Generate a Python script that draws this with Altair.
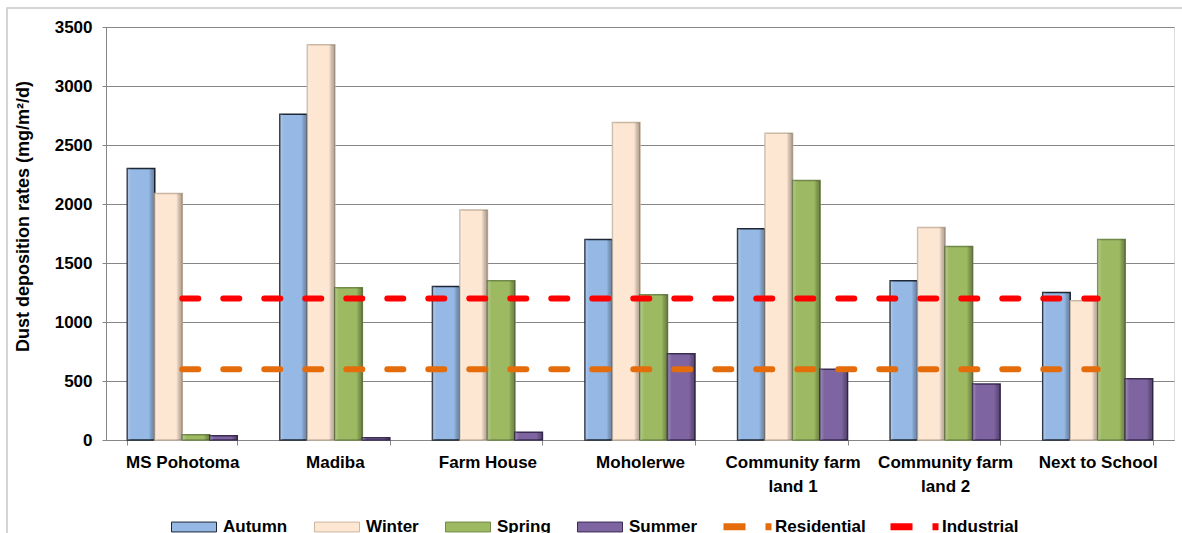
import altair as alt
import pandas as pd

sites = ["MS Pohotoma", "Madiba", "Farm House", "Moholerwe",
         "Community farm land 1", "Community farm land 2", "Next to School"]
seasons = ["Autumn", "Winter", "Spring", "Summer"]
autumn = [2300, 2760, 1300, 1700, 1790, 1350, 1250]
winter = [2090, 3350, 1950, 2690, 2600, 1800, 1180]
spring = [45, 1290, 1350, 1230, 2200, 1640, 1700]
summer = [35, 20, 65, 730, 600, 475, 520]
guides = ["Residential", "Industrial"]
residential = [600, 600, 600, 600, 600, 600, 600]
industrial = [1200, 1200, 1200, 1200, 1200, 1200, 1200]
y_ticks = [0, 500, 1000, 1500, 2000, 2500, 3000, 3500]

fill_colors = ["#95B8E4", "#FDE6D2", "#9DBA62", "#7E64A0"]
stroke_colors = ["#1E2735", "#C9B7A3", "#71894A", "#3B2D52"]
line_colors = ["#E46C0A", "#FF0000"]
FONT = "Liberation Sans"

rows = []
for s, vals in zip(seasons, [autumn, winter, spring, summer]):
    for site, v in zip(sites, vals):
        rows.append({"site": site, "season": s, "value": v})
bars_df = pd.DataFrame(rows)

lrows = []
for g, vals in zip(guides, [residential, industrial]):
    for site, v in zip(sites, vals):
        lrows.append({"site": site, "guide": g, "value": v})
lines_df = pd.DataFrame(lrows)

x_enc = alt.X(
    "site:N", sort=sites, title=None,
    scale=alt.Scale(domain=sites, paddingInner=0.279, paddingOuter=0.1395),
    axis=alt.Axis(
        labelAngle=0, labelFont=FONT, labelFontSize=17, labelFontWeight="bold",
        labelColor="#000000", labelPadding=9, labelLineHeight=24,
        labelExpr="indexof(datum.label, 'Community farm ') == 0 ? ['Community farm', substring(datum.label, 15)] : datum.label",
        tickBand="extent", tickSize=5, tickColor="#868686", domainColor="#868686",
        labelLimit=200,
    ),
)
y_enc = alt.Y(
    "value:Q",
    scale=alt.Scale(domain=[0, 3500], nice=False),
    axis=alt.Axis(
        values=y_ticks, format="d", grid=True, gridColor="#868686", domainColor="#868686",
        tickColor="#868686", tickSize=4, labelPadding=10,
        labelFont=FONT, labelFontSize=17, labelFontWeight="bold", labelColor="#000000",
        title="Dust deposition rates (mg/m²/d)", titleFont=FONT, titleFontSize=18,
        titleFontWeight="bold", titleColor="#000000", titleAngle=-90,
        titleX=-83, titleY=189, titleAlign="center", titleBaseline="middle",
    ),
)

frame = alt.Chart(pd.DataFrame({"f": [0]})).mark_rect(
    fillOpacity=0, stroke="#C8C8C8", strokeWidth=1.5
).encode(x=alt.value(-99), x2=alt.value(1080), y=alt.value(-19), y2=alt.value(530))

bars = alt.Chart(bars_df).mark_bar(strokeWidth=1.5).encode(
    x=x_enc,
    xOffset=alt.XOffset("season:N", sort=seasons,
                        scale=alt.Scale(domain=seasons, paddingInner=0, paddingOuter=0)),
    y=y_enc,
    fill=alt.Fill(
        "season:N", sort=seasons,
        scale=alt.Scale(domain=seasons, range=fill_colors),
        legend=alt.Legend(
            orient="none", direction="horizontal", legendX=65, legendY=477,
            title=None, padding=0, symbolType="M-1,-0.22H1V0.22H-1Z", symbolSize=2025,
            symbolStrokeColor="#4A4A4A", symbolStrokeWidth=1, symbolOpacity=1,
            labelOffset=6, columnPadding=24, labelFont=FONT, labelFontSize=17,
            labelFontWeight="bold", labelColor="#000000",
        ),
    ),
    stroke=alt.Stroke("season:N", sort=seasons,
                      scale=alt.Scale(domain=seasons, range=stroke_colors), legend=None),
)

shade = alt.Chart(bars_df).mark_bar(
    color=alt.LinearGradient(
        gradient="linear", x1=0, x2=1, y1=0, y2=0,
        stops=[
            alt.GradientStop(color="rgba(255,255,255,0.25)", offset=0),
            alt.GradientStop(color="rgba(255,255,255,0)", offset=0.15),
            alt.GradientStop(color="rgba(0,0,0,0)", offset=0.78),
            alt.GradientStop(color="rgba(0,0,0,0.18)", offset=0.88),
            alt.GradientStop(color="rgba(0,0,0,0.3)", offset=1),
        ],
    )
).encode(
    x=alt.X("site:N", sort=sites),
    xOffset=alt.XOffset("season:N", sort=seasons),
    y=alt.Y("value:Q"),
)

lines = alt.Chart(lines_df).mark_line(
    strokeWidth=6, strokeDash=[16, 25], strokeCap="round"
).encode(
    x=alt.X("site:N", sort=sites),
    y=alt.Y("value:Q"),
    color=alt.Color(
        "guide:N", sort=guides,
        scale=alt.Scale(domain=guides, range=line_colors),
        legend=alt.Legend(
            orient="none", direction="horizontal", legendX=614, legendY=472,
            title=None, padding=0, symbolType="stroke", symbolSize=2304,
            symbolStrokeWidth=7, symbolDash=[22, 20, 6, 200],
            labelOffset=0, columnPadding=10, labelFont=FONT, labelFontSize=17,
            labelFontWeight="bold", labelColor="#000000",
        ),
    ),
    detail="guide:N",
)

chart = alt.layer(frame, bars, shade, lines).resolve_scale(
    color="independent"
).properties(
    width=1068, height=413,
    padding={"left": 106, "top": 27, "right": 8, "bottom": 93},
    autosize=alt.AutoSizeParams(type="none"),
    background="#FFFFFF",
).configure_view(stroke="#262626", strokeWidth=1).configure(font=FONT)

chart.save("out.html", embed_options={"renderer": "svg", "actions": False})
